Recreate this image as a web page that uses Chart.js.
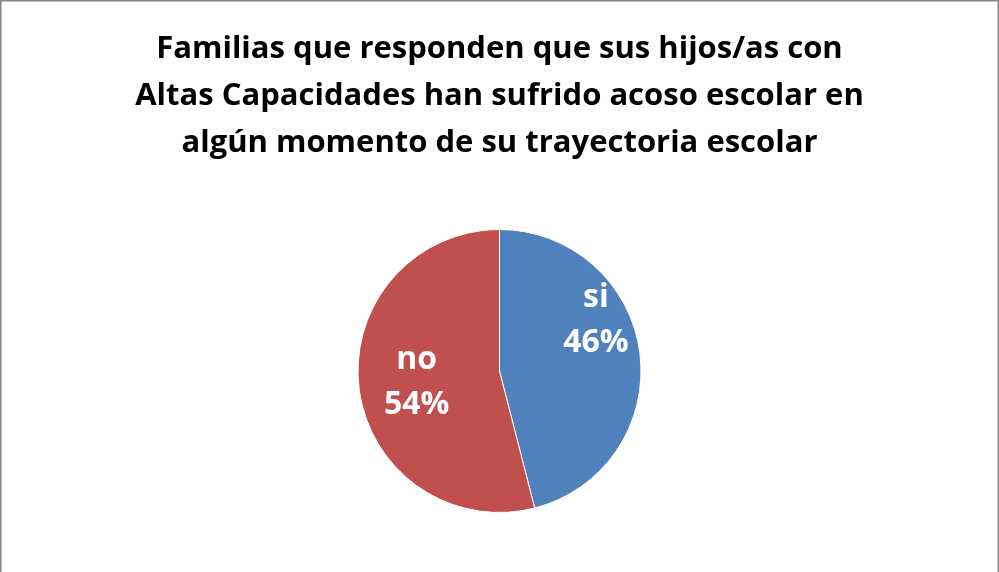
<!DOCTYPE html>
<html>
<head>
<meta charset="utf-8">
<script src="https://cdn.jsdelivr.net/npm/chart.js@4/dist/chart.umd.min.js"></script>
<style>
  html, body { margin: 0; padding: 0; background: #fff; }
  #wrap { position: relative; width: 999px; height: 572px; }
</style>
</head>
<body>
<div id="wrap"><canvas id="pieChart" width="999" height="572"></canvas></div>
<script>
// Datos del gráfico
const categorias = ['si', 'no'];
const valores = [46, 54];
const colores = ['#4F81BD', '#C0504D'];
const titulo = [
    'Familias que responden que sus hijos/as con',
    'Altas Capacidades han sufrido acoso escolar en',
    'algún momento de su trayectoria escolar'
];

const fuente = "'Open Sans', 'DejaVu Sans', sans-serif";

// Marco gris alrededor del gráfico
const marco = {
    id: 'marco',
    beforeDraw(chart) {
        const c = chart.ctx;
        c.save();
        c.fillStyle = '#fff';
        c.fillRect(0, 0, chart.width, chart.height);
        c.strokeStyle = '#868686';
        c.lineWidth = 1.5;
        c.strokeRect(0.75, 0.75, chart.width - 1.5, chart.height + 5);
        c.restore();
    }
};

// Etiquetas dentro de cada sector: nombre y porcentaje
const ajusteEtiquetas = [
    { giro: -0.36, radio: 0.77 },
    { giro: 0.0, radio: 0.59 }
];
const etiquetas = {
    id: 'etiquetas',
    afterDatasetsDraw(chart) {
        const c = chart.ctx;
        const meta = chart.getDatasetMeta(0);
        const total = valores.reduce((a, b) => a + b, 0);
        c.save();
        c.fillStyle = '#fff';
        c.font = "bold 32px " + fuente;
        c.textAlign = 'center';
        c.textBaseline = 'middle';
        meta.data.forEach((arc, i) => {
            const p = arc.getProps(['x', 'y', 'startAngle', 'endAngle', 'outerRadius'], true);
            const a = (p.startAngle + p.endAngle) / 2 + ajusteEtiquetas[i].giro;
            const r = p.outerRadius * ajusteEtiquetas[i].radio;
            const x = p.x + Math.cos(a) * r;
            const y = p.y + Math.sin(a) * r;
            const pct = Math.round(valores[i] / total * 100) + '%';
            c.fillText(categorias[i], x, y - 22);
            c.fillText(pct, x, y + 23);
        });
        c.restore();
    }
};

const grafico = new Chart(document.getElementById('pieChart').getContext('2d'), {
    type: 'pie',
    data: {
        labels: categorias,
        datasets: [{
            data: valores,
            backgroundColor: colores,
            borderColor: '#ffffff',
            borderWidth: 1
        }]
    },
    options: {
        responsive: false,
        animation: false,
        layout: { padding: { top: 0, bottom: 59, left: 0, right: 0 } },
        plugins: {
            legend: { display: false },
            tooltip: { enabled: false },
            title: {
                display: true,
                text: titulo,
                color: '#000',
                font: { family: fuente, size: 31, weight: 'bold', lineHeight: 1.516 },
                padding: { top: 26, bottom: 62 }
            }
        }
    },
    plugins: [marco, etiquetas]
});
</script>
</body>
</html>
